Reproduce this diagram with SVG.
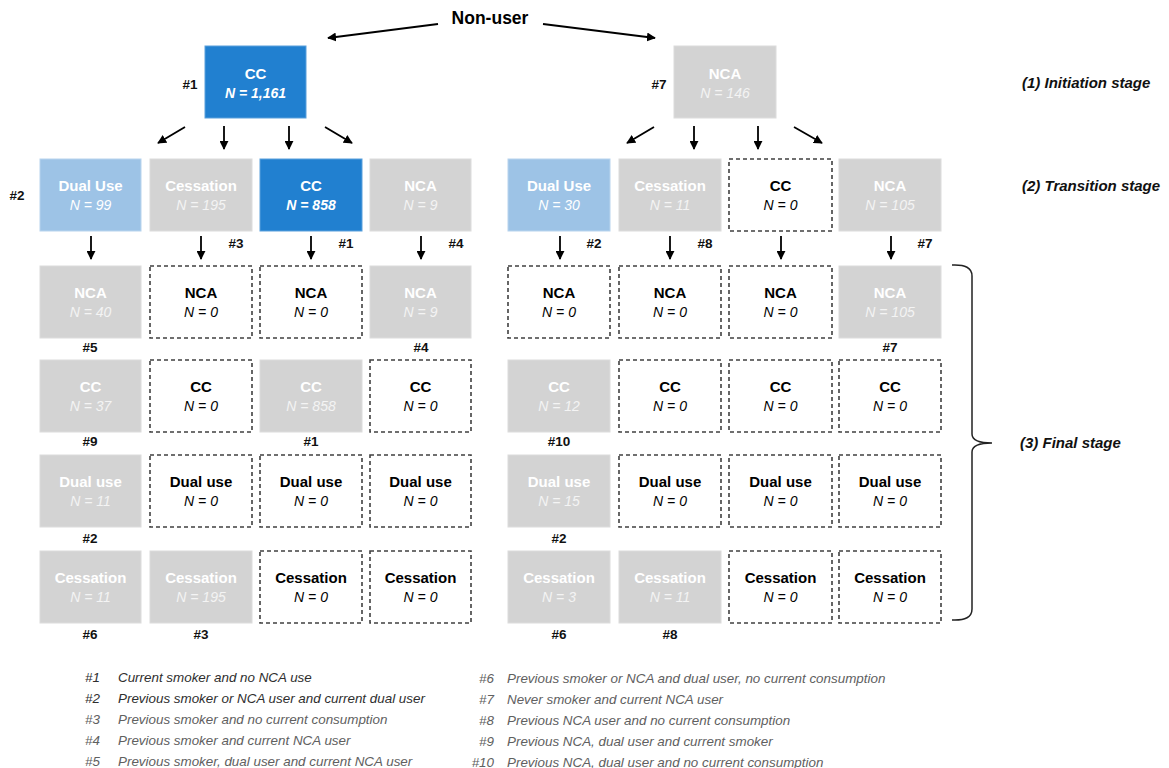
<svg xmlns="http://www.w3.org/2000/svg" width="1169" height="768" viewBox="0 0 1169 768">
<defs>
<marker id="ah" viewBox="0 0 10 10" refX="9" refY="5" markerWidth="5" markerHeight="5" orient="auto" markerUnits="strokeWidth">
<path d="M0,0 L10,5 L0,10 z" fill="#000"/>
</marker>
</defs>
<style>
text{font-family:"Liberation Sans",Arial,sans-serif}
.blue{fill:#2180d0;stroke:#5aa0dc;stroke-width:1}
.lblue{fill:#9dc3e6;stroke:#b8d4ee;stroke-width:1}
.grey{fill:#d3d3d3;stroke:#dcdcdc;stroke-width:1}
.dash{fill:#fff;stroke:#404040;stroke-width:1.6;stroke-dasharray:4 3}
.t{font-size:15px;font-weight:bold;text-anchor:middle}
.n{font-size:14px;font-style:italic;text-anchor:middle}
.w{fill:#ffffff}
.wn{fill:#f4f4f4}
.k{fill:#000}
.id{font-size:13.5px;font-weight:bold;fill:#111;text-anchor:middle}
.conn line{stroke:#000;stroke-width:1.8;marker-end:url(#ah)}
.stage{font-size:15px;font-weight:bold;font-style:italic;fill:#111}
.lg{font-size:13.4px;font-style:italic;fill:#606060}
.lgd{fill:#2e2e2e}
.lgn{text-anchor:end}
</style>
<rect width="1169" height="768" fill="#fff"/>

<text x="490" y="24" style="font-size:17.5px;font-weight:bold;text-anchor:middle" fill="#000">Non-user</text>

<g id="connectors" class="conn">
<line x1="438" y1="24" x2="328" y2="38"/>
<line x1="543" y1="24" x2="655" y2="38"/>
<line x1="185" y1="127" x2="158" y2="143"/>
<line x1="224" y1="126" x2="224" y2="149"/>
<line x1="289" y1="126" x2="289" y2="149"/>
<line x1="325" y1="127" x2="352" y2="143"/>
<line x1="654" y1="127" x2="627" y2="143"/>
<line x1="694" y1="126" x2="694" y2="149"/>
<line x1="758" y1="126" x2="758" y2="149"/>
<line x1="794" y1="127" x2="822" y2="143"/>
<line x1="91" y1="236" x2="91" y2="259"/>
<line x1="201" y1="236" x2="201" y2="259"/>
<line x1="311" y1="236" x2="311" y2="259"/>
<line x1="421" y1="236" x2="421" y2="259"/>
<line x1="560" y1="236" x2="560" y2="259"/>
<line x1="670" y1="236" x2="670" y2="259"/>
<line x1="781" y1="236" x2="781" y2="259"/>
<line x1="891" y1="236" x2="891" y2="259"/>
</g>

<!-- Initiation -->
<g id="init-cc"><rect class="blue" x="205" y="46" width="101" height="72"/><text class="t w" x="255.5" y="79">CC</text><text class="n w" x="255.5" y="98" font-weight="bold">N = 1,161</text></g>
<g id="init-nca"><rect class="grey" x="674" y="46" width="102" height="72"/><text class="t w" x="725" y="79">NCA</text><text class="n wn" x="725" y="98">N = 146</text></g>
<text class="id" x="190" y="89">#1</text>
<text class="id" x="659" y="89">#7</text>

<!-- Transition left -->
<g id="tl-dual"><rect class="lblue" x="40" y="159" width="101" height="72"/><text class="t w" x="90.5" y="191">Dual Use</text><text class="n w" x="90.5" y="210">N = 99</text></g>
<g id="tl-cess"><rect class="grey" x="150" y="159" width="102" height="72"/><text class="t w" x="201" y="191">Cessation</text><text class="n wn" x="201" y="210">N = 195</text></g>
<g id="tl-cc"><rect class="blue" x="260" y="159" width="102" height="72"/><text class="t w" x="311" y="191">CC</text><text class="n w" x="311" y="210" font-weight="bold">N = 858</text></g>
<g id="tl-nca"><rect class="grey" x="370" y="159" width="101" height="72"/><text class="t w" x="420.5" y="191">NCA</text><text class="n wn" x="420.5" y="210">N = 9</text></g>

<!-- Transition right -->
<g id="tr-dual"><rect class="lblue" x="508" y="159" width="102" height="72"/><text class="t w" x="559" y="191">Dual Use</text><text class="n w" x="559" y="210">N = 30</text></g>
<g id="tr-cess"><rect class="grey" x="619" y="159" width="102" height="72"/><text class="t w" x="670" y="191">Cessation</text><text class="n wn" x="670" y="210">N = 11</text></g>
<g id="tr-cc"><rect class="dash" x="729" y="159" width="103" height="72"/><text class="t k" x="780.5" y="191">CC</text><text class="n k" x="780.5" y="210">N = 0</text></g>
<g id="tr-nca"><rect class="grey" x="839" y="159" width="102" height="72"/><text class="t w" x="890" y="191">NCA</text><text class="n wn" x="890" y="210">N = 105</text></g>

<text class="id" x="17" y="200">#2</text>
<text class="id" x="236" y="248">#3</text>
<text class="id" x="346" y="248">#1</text>
<text class="id" x="456" y="248">#4</text>
<text class="id" x="594" y="248">#2</text>
<text class="id" x="705" y="248">#8</text>
<text class="id" x="925" y="248">#7</text>

<!-- Final left: NCA row -->
<g id="fl-nca-1"><rect class="grey" x="40" y="266" width="101" height="72"/><text class="t w" x="90.5" y="298">NCA</text><text class="n wn" x="90.5" y="317">N = 40</text></g>
<g id="fl-nca-2"><rect class="dash" x="150" y="266" width="102" height="72"/><text class="t k" x="201" y="298">NCA</text><text class="n k" x="201" y="317">N = 0</text></g>
<g id="fl-nca-3"><rect class="dash" x="260" y="266" width="102" height="72"/><text class="t k" x="311" y="298">NCA</text><text class="n k" x="311" y="317">N = 0</text></g>
<g id="fl-nca-4"><rect class="grey" x="370" y="266" width="101" height="72"/><text class="t w" x="420.5" y="298">NCA</text><text class="n wn" x="420.5" y="317">N = 9</text></g>
<!-- CC row -->
<g id="fl-cc-1"><rect class="grey" x="40" y="360" width="101" height="72"/><text class="t w" x="90.5" y="392">CC</text><text class="n wn" x="90.5" y="411">N = 37</text></g>
<g id="fl-cc-2"><rect class="dash" x="150" y="360" width="102" height="72"/><text class="t k" x="201" y="392">CC</text><text class="n k" x="201" y="411">N = 0</text></g>
<g id="fl-cc-3"><rect class="grey" x="260" y="360" width="102" height="72"/><text class="t w" x="311" y="392">CC</text><text class="n wn" x="311" y="411">N = 858</text></g>
<g id="fl-cc-4"><rect class="dash" x="370" y="360" width="101" height="72"/><text class="t k" x="420.5" y="392">CC</text><text class="n k" x="420.5" y="411">N = 0</text></g>
<!-- Dual use row -->
<g id="fl-du-1"><rect class="grey" x="40" y="455" width="101" height="72"/><text class="t w" x="90.5" y="487">Dual use</text><text class="n wn" x="90.5" y="506">N = 11</text></g>
<g id="fl-du-2"><rect class="dash" x="150" y="455" width="102" height="72"/><text class="t k" x="201" y="487">Dual use</text><text class="n k" x="201" y="506">N = 0</text></g>
<g id="fl-du-3"><rect class="dash" x="260" y="455" width="102" height="72"/><text class="t k" x="311" y="487">Dual use</text><text class="n k" x="311" y="506">N = 0</text></g>
<g id="fl-du-4"><rect class="dash" x="370" y="455" width="101" height="72"/><text class="t k" x="420.5" y="487">Dual use</text><text class="n k" x="420.5" y="506">N = 0</text></g>
<!-- Cessation row -->
<g id="fl-ce-1"><rect class="grey" x="40" y="551" width="101" height="72"/><text class="t w" x="90.5" y="583">Cessation</text><text class="n wn" x="90.5" y="602">N = 11</text></g>
<g id="fl-ce-2"><rect class="grey" x="150" y="551" width="102" height="72"/><text class="t w" x="201" y="583">Cessation</text><text class="n wn" x="201" y="602">N = 195</text></g>
<g id="fl-ce-3"><rect class="dash" x="260" y="551" width="102" height="72"/><text class="t k" x="311" y="583">Cessation</text><text class="n k" x="311" y="602">N = 0</text></g>
<g id="fl-ce-4"><rect class="dash" x="370" y="551" width="101" height="72"/><text class="t k" x="420.5" y="583">Cessation</text><text class="n k" x="420.5" y="602">N = 0</text></g>

<!-- Final right: NCA row -->
<g id="fr-nca-1"><rect class="dash" x="508" y="266" width="102" height="72"/><text class="t k" x="559" y="298">NCA</text><text class="n k" x="559" y="317">N = 0</text></g>
<g id="fr-nca-2"><rect class="dash" x="619" y="266" width="102" height="72"/><text class="t k" x="670" y="298">NCA</text><text class="n k" x="670" y="317">N = 0</text></g>
<g id="fr-nca-3"><rect class="dash" x="729" y="266" width="103" height="72"/><text class="t k" x="780.5" y="298">NCA</text><text class="n k" x="780.5" y="317">N = 0</text></g>
<g id="fr-nca-4"><rect class="grey" x="839" y="266" width="102" height="72"/><text class="t w" x="890" y="298">NCA</text><text class="n wn" x="890" y="317">N = 105</text></g>
<!-- CC row -->
<g id="fr-cc-1"><rect class="grey" x="508" y="360" width="102" height="72"/><text class="t w" x="559" y="392">CC</text><text class="n wn" x="559" y="411">N = 12</text></g>
<g id="fr-cc-2"><rect class="dash" x="619" y="360" width="102" height="72"/><text class="t k" x="670" y="392">CC</text><text class="n k" x="670" y="411">N = 0</text></g>
<g id="fr-cc-3"><rect class="dash" x="729" y="360" width="103" height="72"/><text class="t k" x="780.5" y="392">CC</text><text class="n k" x="780.5" y="411">N = 0</text></g>
<g id="fr-cc-4"><rect class="dash" x="839" y="360" width="102" height="72"/><text class="t k" x="890" y="392">CC</text><text class="n k" x="890" y="411">N = 0</text></g>
<!-- Dual use row -->
<g id="fr-du-1"><rect class="grey" x="508" y="455" width="102" height="72"/><text class="t w" x="559" y="487">Dual use</text><text class="n wn" x="559" y="506">N = 15</text></g>
<g id="fr-du-2"><rect class="dash" x="619" y="455" width="102" height="72"/><text class="t k" x="670" y="487">Dual use</text><text class="n k" x="670" y="506">N = 0</text></g>
<g id="fr-du-3"><rect class="dash" x="729" y="455" width="103" height="72"/><text class="t k" x="780.5" y="487">Dual use</text><text class="n k" x="780.5" y="506">N = 0</text></g>
<g id="fr-du-4"><rect class="dash" x="839" y="455" width="102" height="72"/><text class="t k" x="890" y="487">Dual use</text><text class="n k" x="890" y="506">N = 0</text></g>
<!-- Cessation row -->
<g id="fr-ce-1"><rect class="grey" x="508" y="551" width="102" height="72"/><text class="t w" x="559" y="583">Cessation</text><text class="n wn" x="559" y="602">N = 3</text></g>
<g id="fr-ce-2"><rect class="grey" x="619" y="551" width="102" height="72"/><text class="t w" x="670" y="583">Cessation</text><text class="n wn" x="670" y="602">N = 11</text></g>
<g id="fr-ce-3"><rect class="dash" x="729" y="551" width="103" height="72"/><text class="t k" x="780.5" y="583">Cessation</text><text class="n k" x="780.5" y="602">N = 0</text></g>
<g id="fr-ce-4"><rect class="dash" x="839" y="551" width="102" height="72"/><text class="t k" x="890" y="583">Cessation</text><text class="n k" x="890" y="602">N = 0</text></g>

<!-- final stage ids -->
<text class="id" x="90" y="352">#5</text>
<text class="id" x="421" y="352">#4</text>
<text class="id" x="890" y="352">#7</text>
<text class="id" x="90" y="446">#9</text>
<text class="id" x="311" y="446">#1</text>
<text class="id" x="559" y="446">#10</text>
<text class="id" x="90" y="543">#2</text>
<text class="id" x="559" y="543">#2</text>
<text class="id" x="90" y="639">#6</text>
<text class="id" x="201" y="639">#3</text>
<text class="id" x="559" y="639">#6</text>
<text class="id" x="670" y="639">#8</text>

<!-- stages -->
<text class="stage" x="1022" y="88">(1) Initiation stage</text>
<text class="stage" x="1022" y="191">(2) Transition stage</text>
<path d="M952,265 Q972,264 972,276 L972,434 Q972,443 992,443 Q972,443 972,452 L972,609 Q972,621 952,620" fill="none" stroke="#222" stroke-width="1.5"/>
<text class="stage" x="1020" y="448">(3) Final stage</text>

<!-- legend -->
<g id="legend">
<text class="lg lgd lgn" x="100" y="682">#1</text><text class="lg lgd" x="118" y="682">Current smoker and no NCA use</text>
<text class="lg lgd lgn" x="100" y="703">#2</text><text class="lg lgd" x="118" y="703">Previous smoker or NCA user and current dual user</text>
<text class="lg lgn" x="100" y="724">#3</text><text class="lg" x="118" y="724">Previous smoker and no current consumption</text>
<text class="lg lgn" x="100" y="745">#4</text><text class="lg" x="118" y="745">Previous smoker and current NCA user</text>
<text class="lg lgn" x="100" y="766">#5</text><text class="lg" x="118" y="766">Previous smoker, dual user and current NCA user</text>
<text class="lg lgn" x="494" y="683">#6</text><text class="lg" x="507" y="683">Previous smoker or NCA and dual user, no current consumption</text>
<text class="lg lgn" x="494" y="704">#7</text><text class="lg" x="507" y="704">Never smoker and current NCA user</text>
<text class="lg lgn" x="494" y="725">#8</text><text class="lg" x="507" y="725">Previous NCA user and no current consumption</text>
<text class="lg lgn" x="494" y="746">#9</text><text class="lg" x="507" y="746">Previous NCA, dual user and current smoker</text>
<text class="lg lgn" x="494" y="767">#10</text><text class="lg" x="507" y="767">Previous NCA, dual user and no current consumption</text>
</g>
</svg>
